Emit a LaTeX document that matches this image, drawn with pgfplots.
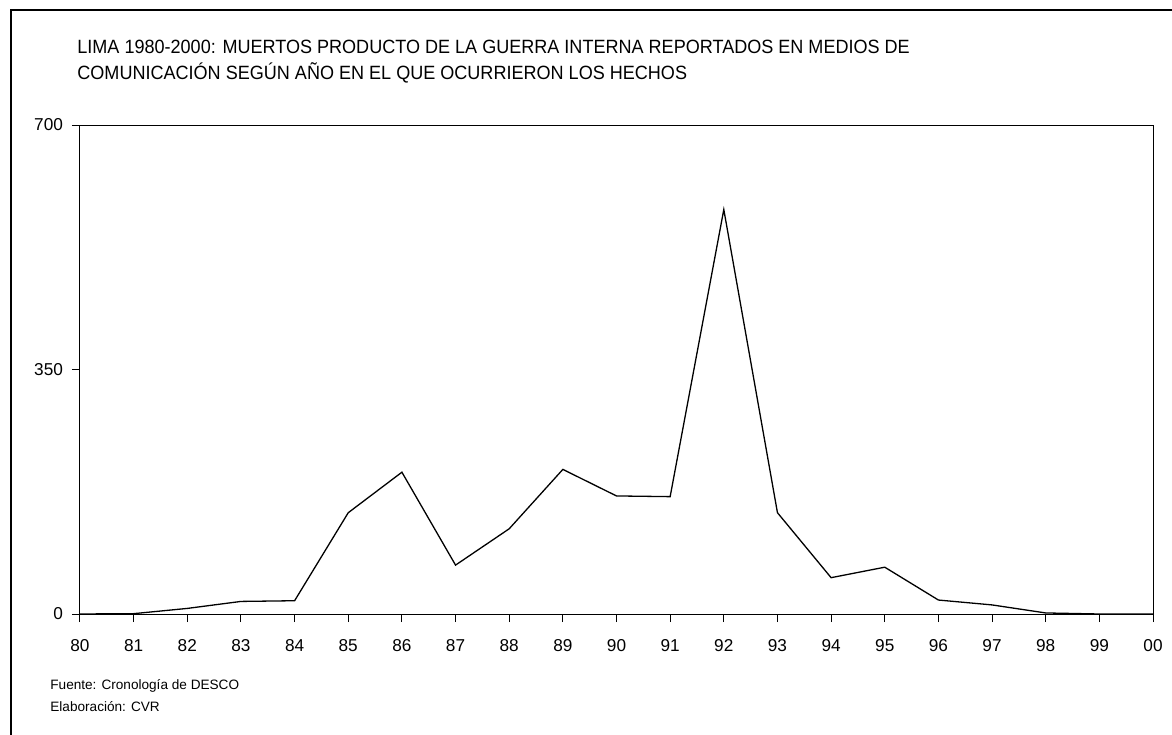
\documentclass[border=0pt]{standalone}
\usepackage{pgfplots}
\pgfplotsset{compat=1.18}
\usepackage{fontspec}
\setmainfont{Liberation Sans}
\newfontfamily\titlefont[FakeStretch=0.94]{Liberation Sans}

\begin{document}
\begin{tikzpicture}
\path[use as bounding box] (-40pt,-60pt) rectangle (546pt,307pt);
\begin{axis}[
    scale only axis,
    width=536.5pt, height=244.5pt,
    xmin=0, xmax=20, ymin=0, ymax=700,
    axis line style={line width=0.5pt},
    xtick={0,...,20},
    xticklabels={80,81,82,83,84,85,86,87,88,89,90,91,92,93,94,95,96,97,98,99,00},
    ytick={0,350,700},
    tick align=outside,
    xtick pos=bottom, ytick pos=left,
    major tick length=4pt,
    tick style={line width=0.5pt, black},
    ticklabel style={font=\fontsize{8.6}{10}\selectfont},
    /pgf/number format/assume math mode=true,
    yticklabel style={xshift=-1pt},
    xticklabel style={yshift=-5pt},
]
\addplot[black, line width=0.65pt] coordinates {
    (0,0) (1,0.5) (2,8) (3,18) (4,19) (5,145) (6,203) (7,70) (8,122)
    (9,207) (10,169) (11,168) (12,579) (13,145) (14,52) (15,67) (16,20)
    (17,13) (18,1.5) (19,0) (20,0)
};
\end{axis}
\draw[line width=0.75pt] (-34.5pt,-70pt) -- (-34.5pt,302pt) -- (560pt,302pt);
\node[anchor=west, inner sep=0pt, font=\titlefont\fontsize{9.6}{13}\selectfont] at (-1.5pt,283.5pt)
    {LIMA 1980-2000: MUERTOS PRODUCTO DE LA GUERRA INTERNA REPORTADOS EN MEDIOS DE};
\node[anchor=west, inner sep=0pt, font=\titlefont\fontsize{9.6}{13}\selectfont] at (-1.5pt,270.5pt)
    {COMUNICACIÓN SEGÚN AÑO EN EL QUE OCURRIERON LOS HECHOS};
\node[anchor=west, inner sep=0pt, font=\fontsize{6.8}{9}\selectfont] at (-15pt,-36pt)
    {Fuente: Cronología de DESCO};
\node[anchor=west, inner sep=0pt, font=\fontsize{6.8}{9}\selectfont] at (-15pt,-46.5pt)
    {Elaboración: CVR};
\end{tikzpicture}
\end{document}
